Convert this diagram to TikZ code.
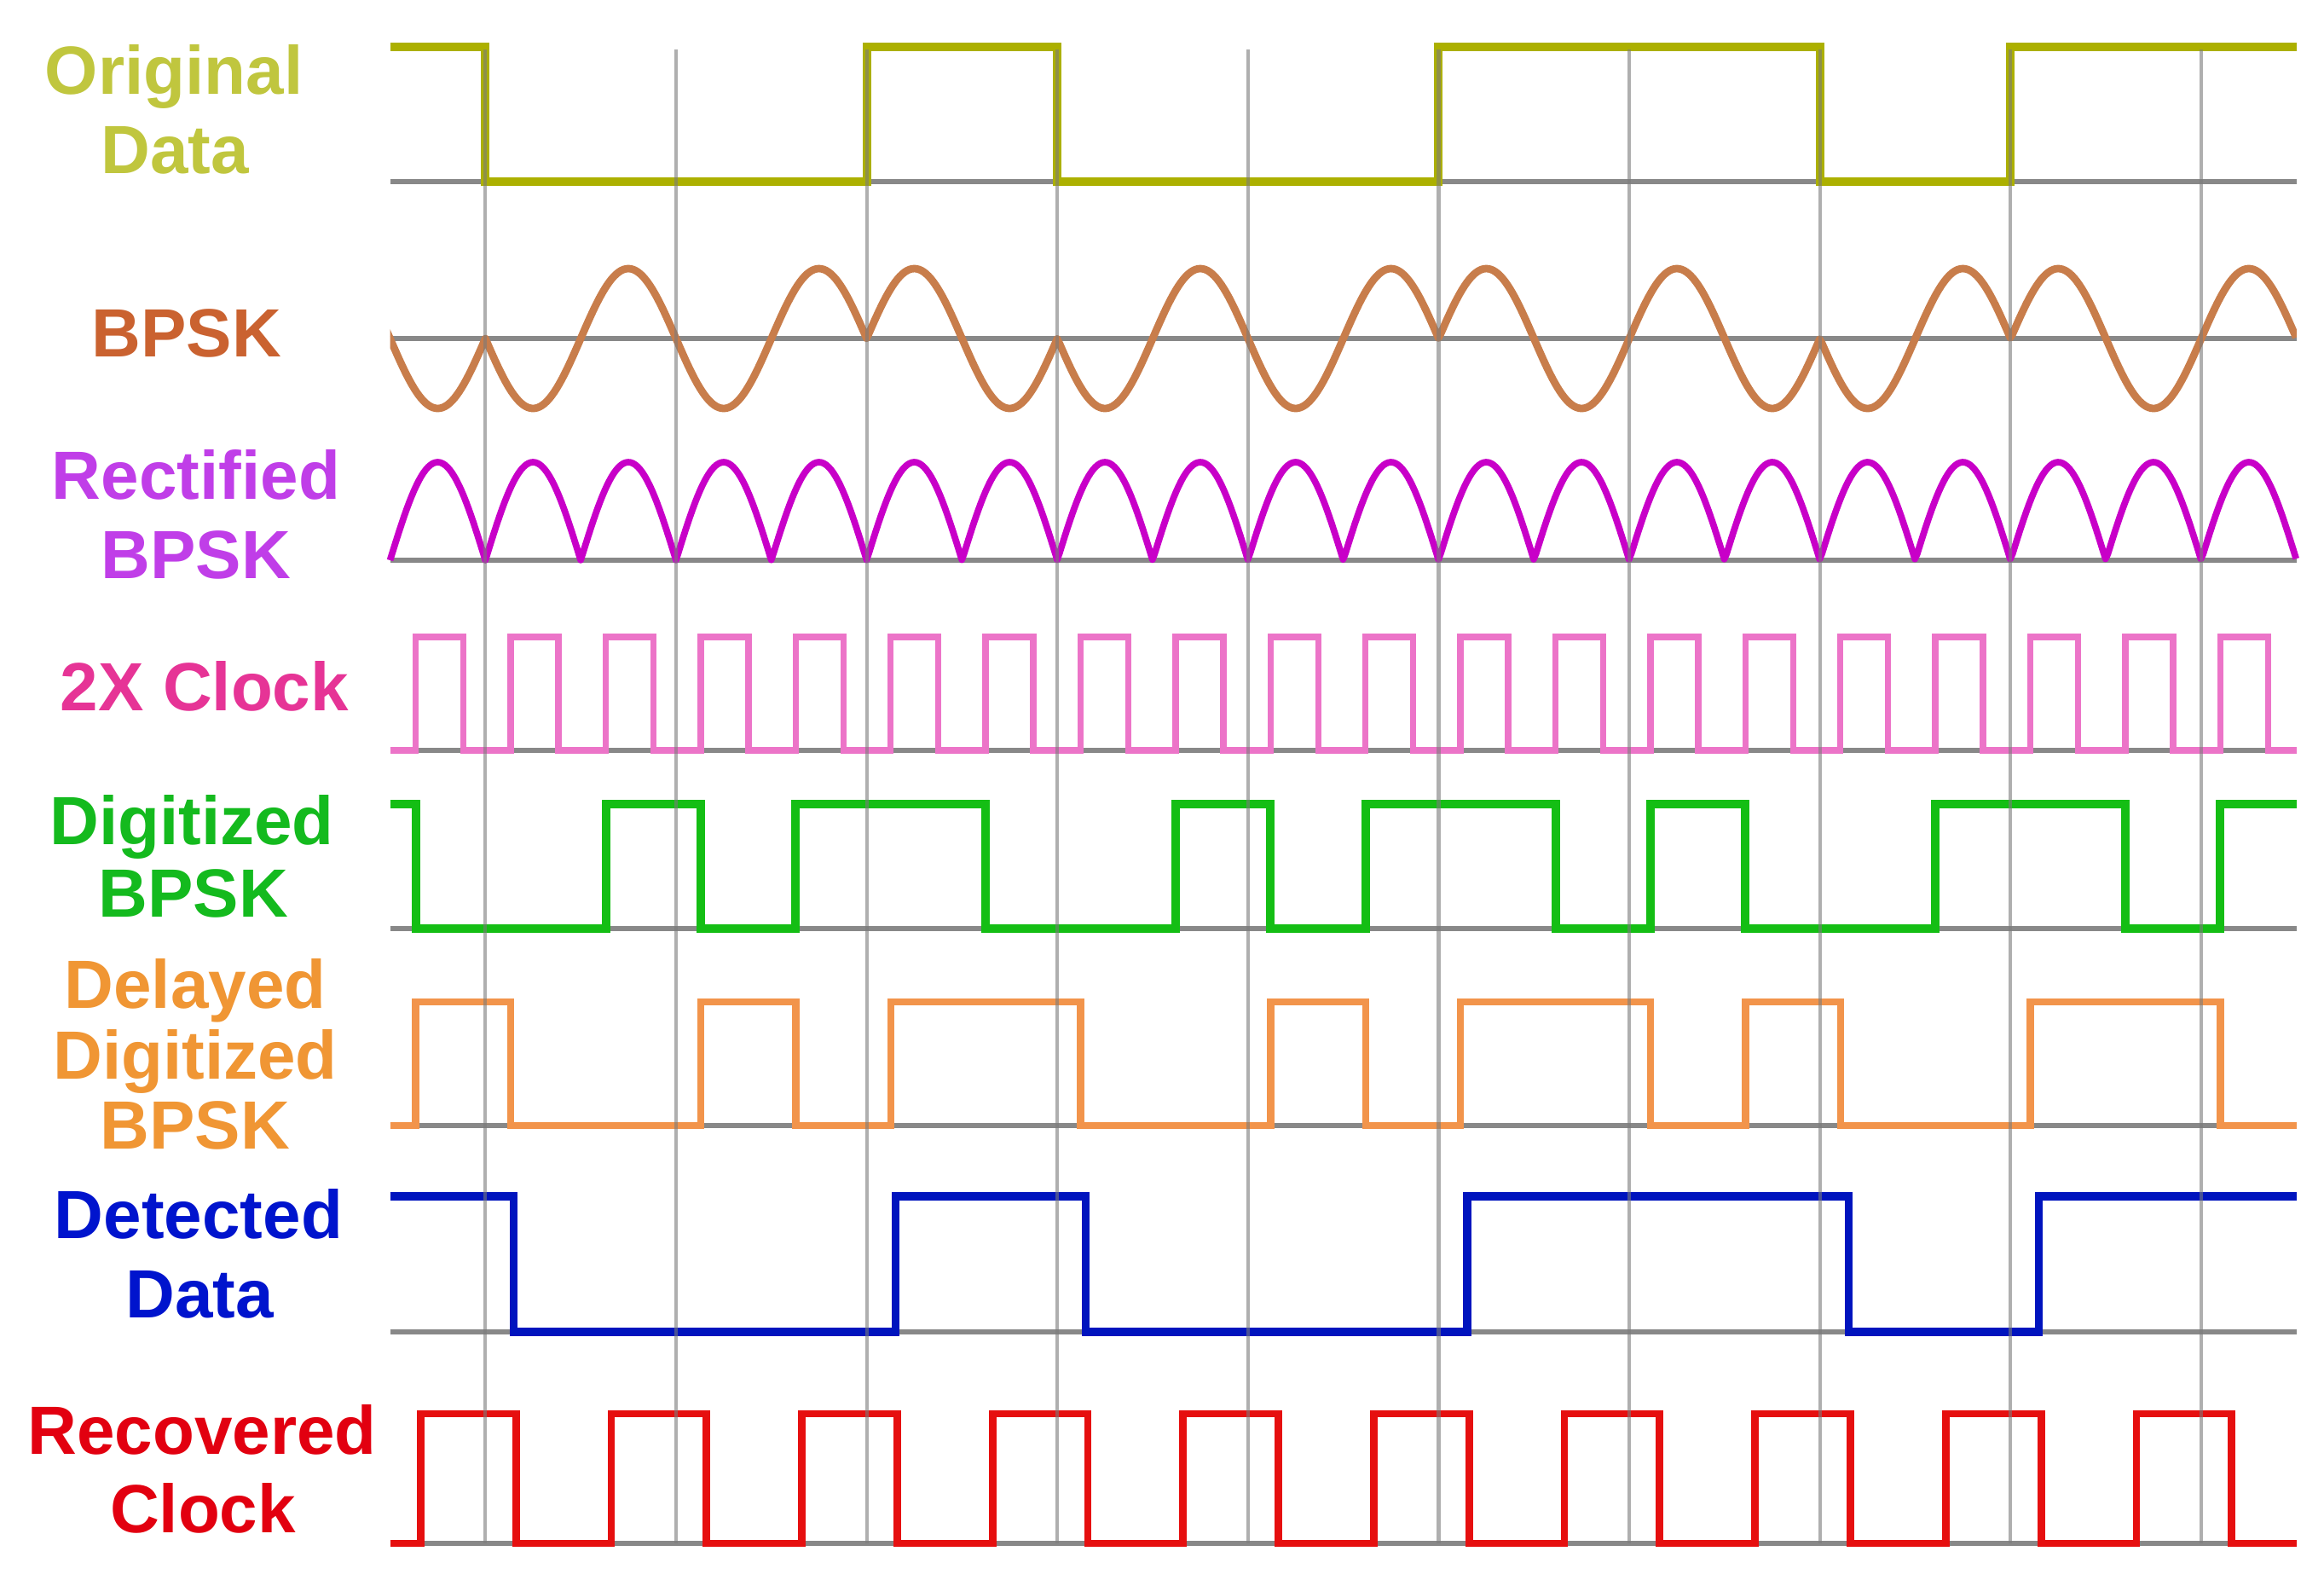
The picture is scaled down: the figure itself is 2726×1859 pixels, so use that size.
\documentclass[tikz,border=0pt]{standalone}
\usepackage{fontspec}
\setmainfont{Liberation Sans}
\definecolor{cOli}{RGB}{172,176,0}
\definecolor{cOliT}{RGB}{192,198,62}
\definecolor{cBp}{RGB}{200,125,75}
\definecolor{cBpT}{RGB}{202,98,48}
\definecolor{cRe}{RGB}{200,0,200}
\definecolor{cReT}{RGB}{192,62,232}
\definecolor{cCk}{RGB}{236,116,200}
\definecolor{cCkT}{RGB}{230,52,150}
\definecolor{cDg}{RGB}{20,190,20}
\definecolor{cDgT}{RGB}{20,186,30}
\definecolor{cDl}{RGB}{242,148,75}
\definecolor{cDlT}{RGB}{240,150,52}
\definecolor{cDt}{RGB}{0,20,190}
\definecolor{cDtT}{RGB}{0,20,205}
\definecolor{cRc}{RGB}{230,15,15}
\definecolor{cRcT}{RGB}{226,0,16}
\definecolor{cBase}{RGB}{136,136,136}
\definecolor{cGrid}{RGB}{123,123,123}
\begin{document}
\begin{tikzpicture}[x=0.01cm, y=-0.01cm,
  lbl/.style={anchor=base, inner sep=0pt, font=\fontsize{22.76pt}{26pt}\selectfont\bfseries},
  wave/.style={line join=miter, miter limit=10},
  baseln/.style={cBase, line width=1.8pt},
  gridl/.style={cGrid, opacity=0.6, line width=1.15pt},
  declare function={dd(\t)=ifthenelse(\t<1,1,ifthenelse(\t<5,-1,ifthenelse(\t<7,1,ifthenelse(\t<11,-1,ifthenelse(\t<15,1,ifthenelse(\t<17,-1,1))))));}]
\useasboundingbox (0,0) rectangle (2726,1859);
\fill[white] (0,0) rectangle (2726,1859);

\begin{scope}[shift={(4.5725cm,0cm)}, x=1.1175cm]
  % baselines
  \foreach \yy in {213,397,657,880,1089,1320,1562,1810}
    \draw[baseln] (0,\yy) -- (20,\yy);

  % Original data
  \draw[wave, cOli, line width=2.85pt] (0,55) -- (1,55) -- (1,213) -- (5,213) -- (5,55) -- (7,55) -- (7,213) -- (11,213) -- (11,55) -- (15,55) -- (15,213) -- (17,213) -- (17,55) -- (20,55);

  % BPSK
  \begin{scope}
    \clip (0,250) rectangle (20,560);
    \draw[cBp, line width=2.5pt, line join=round] plot[domain=-0.15:20, samples=807] (\x, {397 - 82*dd(\x)*sin(180*(\x-1))});
  \end{scope}

  % Rectified BPSK
  \draw[cRe, line width=2.2pt, line join=round] plot[domain=0:20, samples=801] (\x, {657 - 115*abs(sin(180*\x))});

  % 2X clock
  \draw[wave, cCk, line width=2.1pt] (0,880) \foreach \k in {0,...,19} { -- ({0.27+0.9963*\k},880) -- ({0.27+0.9963*\k},747) -- ({0.77+0.9963*\k},747) -- ({0.77+0.9963*\k},880) } -- (20,880);

  % Digitized BPSK
  \draw[wave, cDg, line width=2.85pt] (0,943) -- (0.270,943) -- (0.270,1089) -- (2.263,1089) -- (2.263,943) -- (3.259,943) -- (3.259,1089) -- (4.255,1089) -- (4.255,943) -- (6.248,943) -- (6.248,1089) -- (8.240,1089) -- (8.240,943) -- (9.237,943) -- (9.237,1089) -- (10.233,1089) -- (10.233,943) -- (12.226,943) -- (12.226,1089) -- (13.222,1089) -- (13.222,943) -- (14.218,943) -- (14.218,1089) -- (16.211,1089) -- (16.211,943) -- (18.203,943) -- (18.203,1089) -- (19.200,1089) -- (19.200,943) -- (20,943);

  % Delayed digitized BPSK
  \draw[wave, cDl, line width=2.4pt] (0,1320) -- (0.270,1320) -- (0.270,1175) -- (1.266,1175) -- (1.266,1320) -- (3.259,1320) -- (3.259,1175) -- (4.255,1175) -- (4.255,1320) -- (5.252,1320) -- (5.252,1175) -- (7.244,1175) -- (7.244,1320) -- (9.237,1320) -- (9.237,1175) -- (10.233,1175) -- (10.233,1320) -- (11.229,1320) -- (11.229,1175) -- (13.222,1175) -- (13.222,1320) -- (14.218,1320) -- (14.218,1175) -- (15.215,1175) -- (15.215,1320) -- (17.207,1320) -- (17.207,1175) -- (19.200,1175) -- (19.200,1320) -- (20,1320);

  % Detected data
  \draw[wave, cDt, line width=2.6pt] (0,1403) -- (1.3,1403) -- (1.3,1562) -- (5.3,1562) -- (5.3,1403) -- (7.3,1403) -- (7.3,1562) -- (11.3,1562) -- (11.3,1403) -- (15.3,1403) -- (15.3,1562) -- (17.3,1562) -- (17.3,1403) -- (20,1403);

  % Recovered clock
  \draw[wave, cRc, line width=2.5pt] (0,1810) \foreach \j in {0,...,9} { -- ({2*\j+0.32},1810) -- ({2*\j+0.32},1658) -- ({2*\j+1.32},1658) -- ({2*\j+1.32},1810) } -- (20,1810);

  % grid lines
  \foreach \g in {1,3,...,19}
    \draw[gridl] (\g,58) -- (\g,1810);
\end{scope}

% labels
\node[lbl, text=cOliT] (lOrig) at (204,110) {Original};
\node[lbl, text=cOliT] (lOrig2) at (205,203) {Data};
\node[lbl, text=cBpT] (lBpsk) at (219,418) {BPSK};
\node[lbl, text=cReT] (lRect) at (230,585) {Rectified};
\node[lbl, text=cReT] (lRect2) at (230,678) {BPSK};
\node[lbl, text=cCkT] (lClk) at (240,833) {2X Clock};
\node[lbl, text=cDgT] (lDig) at (225,990) {Digitized};
\node[lbl, text=cDgT] (lDig2) at (227,1075) {BPSK};
\node[lbl, text=cDlT] (lDel) at (229,1182) {Delayed};
\node[lbl, text=cDlT] (lDel2) at (229,1265) {Digitized};
\node[lbl, text=cDlT] (lDel3) at (229,1347) {BPSK};
\node[lbl, text=cDtT] (lDet) at (233,1452) {Detected};
\node[lbl, text=cDtT] (lDet2) at (234,1545) {Data};
\node[lbl, text=cRcT] (lRec) at (237,1705) {Recovered};
\node[lbl, text=cRcT] (lRec2) at (238,1797) {Clock};
\end{tikzpicture}
\end{document}
